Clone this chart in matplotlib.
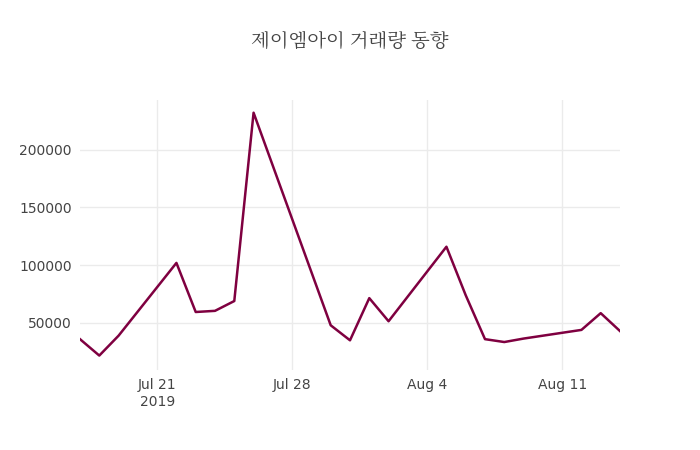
import matplotlib
matplotlib.use("Agg")
import matplotlib.pyplot as plt
from matplotlib import font_manager
import numpy as np

dates = ["2019-07-17", "2019-07-18", "2019-07-19", "2019-07-22", "2019-07-23",
         "2019-07-24", "2019-07-25", "2019-07-26", "2019-07-29", "2019-07-30",
         "2019-07-31", "2019-08-01", "2019-08-02", "2019-08-05", "2019-08-06",
         "2019-08-07", "2019-08-08", "2019-08-09", "2019-08-12", "2019-08-13",
         "2019-08-14"]
volume = [36000, 21800, 39000, 102000, 59500, 60500, 69000, 232000, 94000, 48000,
          35000, 71500, 51500, 116000, 74000, 36000, 33500, 36500, 44000, 58500, 43000]
title = "제이엠아이 거래량 동향"

x = np.array(dates, dtype="datetime64[D]")

# find an installed CJK font that actually has Hangul
cjk = [f.name for f in font_manager.fontManager.ttflist if "CJK" in f.name]
kr = [n for n in cjk if "KR" in n] or cjk
title_font = kr[0] if kr else "DejaVu Sans"

fig = plt.figure(figsize=(7, 4.5), dpi=100)
ax = fig.add_axes([80 / 700, 80 / 450, 540 / 700, 270 / 450])
ax.plot(x, volume, color="#7f0040", lw=1.8)
ax.set_xlim(np.datetime64("2019-07-17"), np.datetime64("2019-08-14"))
ax.set_ylim(9300, 243000)
ax.set_yticks([50000, 100000, 150000, 200000])
ax.set_yticklabels(["50000", "100000", "150000", "200000"])
ticks = np.array(["2019-07-21", "2019-07-28", "2019-08-04", "2019-08-11"], dtype="datetime64[D]")
ax.set_xticks(ticks)
ax.set_xticklabels(["Jul 21\n2019", "Jul 28", "Aug 4", "Aug 11"])
ax.grid(color="#ebebeb", lw=1)
ax.set_axisbelow(True)
for s in ax.spines.values():
    s.set_visible(False)
ax.tick_params(length=0, labelsize=10, colors="#444444", pad=6)
fig.text(0.5, 1 - 42 / 450, title, ha="center", va="center", fontsize=14,
         color="#444444", family=title_font)
fig.savefig("out.png")
